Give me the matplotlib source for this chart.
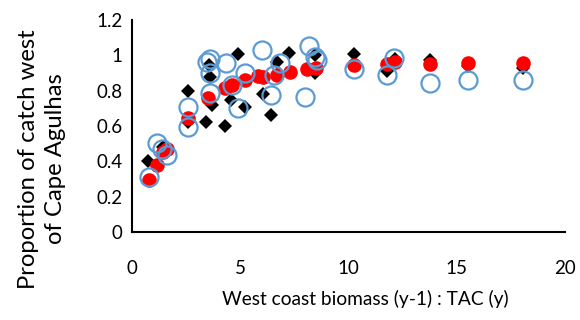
import matplotlib.pyplot as plt

# black diamonds
x_black = [0.75, 1.43, 2.57, 2.6, 3.42, 4.3, 3.57, 3.6, 3.68, 4.9, 4.57, 5.22,
           6.04, 6.42, 6.68, 7.25, 8.45, 8.45, 10.27, 11.76, 12.15, 13.76, 15.5, 18.05]
y_black = [0.40, 0.48, 0.80, 0.62, 0.62, 0.60, 0.945, 0.88, 0.72, 1.005, 0.75, 0.71,
           0.78, 0.66, 0.964, 1.015, 0.90, 1.0, 1.005, 0.91, 0.977, 0.975, 0.94, 0.93]

# red filled circles
x_red = [0.8, 1.14, 1.45, 1.6, 2.6, 3.5, 4.3, 4.62, 5.22, 5.83, 6.07, 6.68,
         7.3, 8.07, 8.5, 10.27, 11.76, 12.15, 13.76, 15.5, 18.05]
y_red = [0.295, 0.38, 0.455, 0.47, 0.645, 0.757, 0.815, 0.83, 0.86, 0.885, 0.88, 0.89,
         0.907, 0.92, 0.926, 0.945, 0.95, 0.96, 0.95, 0.955, 0.955]

# blue open circles
x_blue = [0.8, 1.17, 1.37, 1.6, 2.6, 2.6, 3.48, 3.6, 3.6, 3.6, 4.34, 4.6, 4.9,
          5.2, 5.99, 6.42, 6.55, 6.85, 8.19, 7.99, 8.45, 8.55, 10.27, 11.76,
          12.12, 13.76, 15.5, 18.05]
y_blue = [0.313, 0.505, 0.468, 0.436, 0.705, 0.596, 0.964, 0.977, 0.898, 0.785,
          0.955, 0.83, 0.70, 0.898, 1.03, 0.775, 0.89, 0.955, 1.05, 0.766, 0.99,
          0.975, 0.92, 0.888, 0.983, 0.845, 0.86, 0.86]

xticks = [0, 5, 10, 15, 20]
yticks = [0, 0.2, 0.4, 0.6, 0.8, 1.0, 1.2]
ytick_labels = ['0', '0.2', '0.4', '0.6', '0.8', '1', '1.2']

plt.rcParams['font.family'] = ['Lato', 'DejaVu Sans']

fig = plt.figure(figsize=(5.8, 3.2), dpi=100)
ax = fig.add_axes([0.2276, 0.275, 0.7465, 0.6625])

ax.plot(x_black, y_black, 'D', color='black', markersize=6.8, markeredgewidth=0, zorder=2)
ax.plot(x_red, y_red, 'o', color='#ff0000', markersize=10.5, markeredgewidth=0, zorder=3)
ax.plot(x_blue, y_blue, 'o', markerfacecolor='none', markeredgecolor='#5b9bd5',
        markersize=13, markeredgewidth=1.6, zorder=4)

ax.set_xlim(0, 20)
ax.set_ylim(0, 1.2)
ax.set_xticks(xticks)
ax.set_yticks(yticks)
ax.set_yticklabels(ytick_labels)
ax.tick_params(length=0, labelsize=13.5)
ax.tick_params(axis='x', pad=20)
ax.tick_params(axis='y', pad=7)
for s in ['top', 'right']:
    ax.spines[s].set_visible(False)
for s in ['left', 'bottom']:
    ax.spines[s].set_linewidth(1.5)

# axis titles sit off-centre, as in the original
ax.set_xlabel('West coast biomass (y-1) : TAC (y)', fontsize=13.8, va='center')
ax.xaxis.set_label_coords(0.54, -0.316)
ax.set_ylabel('Proportion of catch west\nof Cape Agulhas', fontsize=17.2,
              linespacing=1.38, va='center')
ax.yaxis.set_label_coords(-0.208, 0.344)

plt.savefig('out.png', dpi=100)
